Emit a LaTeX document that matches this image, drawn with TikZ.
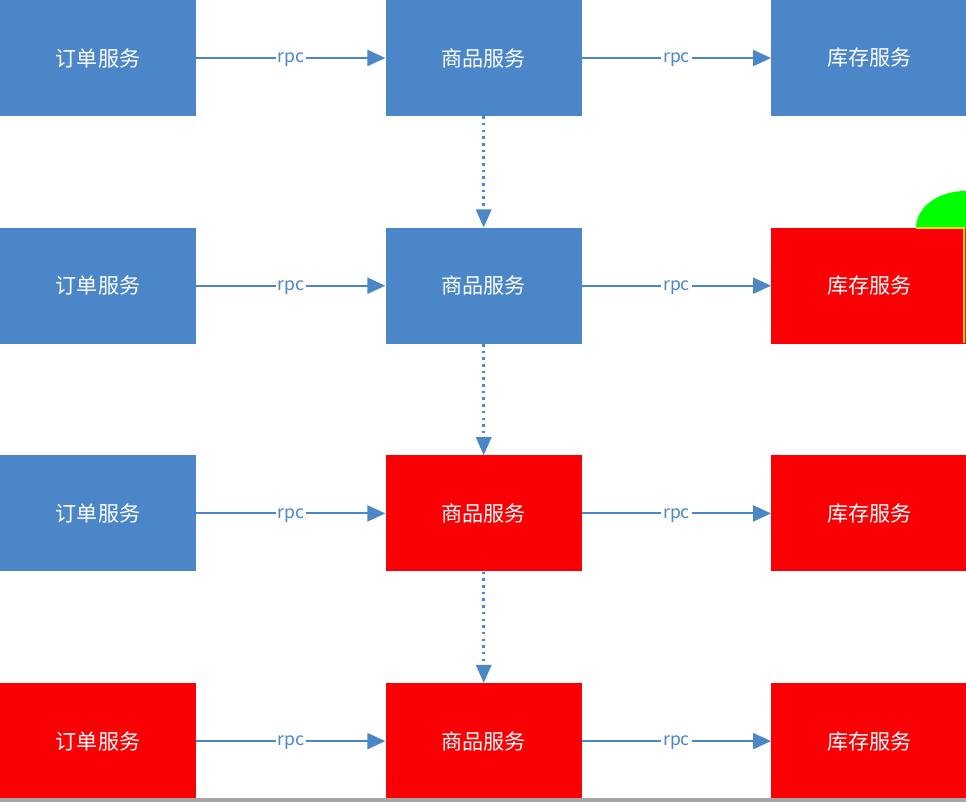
\documentclass[tikz,border=0pt]{standalone}
\usepackage{fontspec}
\setmainfont{Noto Sans CJK SC}
\usepackage{xcolor}
\usepackage{tikz}
\usetikzlibrary{positioning, arrows.meta, shapes.geometric}

\definecolor{svcblue}{RGB}{74,134,200}
\definecolor{svcred}{RGB}{250,0,5}
\definecolor{markgreen}{RGB}{0,255,0}

\begin{document}
\begin{tikzpicture}[node distance=2.22cm and 3.78cm,
    svc/.style={rectangle, minimum width=3.92cm, minimum height=2.32cm, inner sep=0pt, text=white, font=\fontsize{12}{14}\selectfont},
    okbox/.style={svc, fill=svcblue},
    downbox/.style={svc, fill=svcred},
    rpcarrow/.style={draw=svcblue, line width=1.1pt, -{Triangle[length=0.36cm, width=0.32cm]}},
    spread/.style={draw=svcblue, line width=1.4pt, dash pattern=on 1.4pt off 2.4pt, -{Triangle[length=0.36cm, width=0.32cm, line width=0pt]}},
    rpclabel/.style={fill=white, text=svcblue, inner sep=1pt, text height=1.5ex, text depth=0.5ex, font=\fontsize{10}{12}\selectfont}]
        \useasboundingbox (0,0) rectangle (19.32,-16.04);
        % row 1: all fine
        \node [okbox] (order1) at (1.96,-1.16) {订单服务};
        \node [okbox, right=of order1] (goods1) {商品服务};
        \node [okbox, right=of goods1] (stock1) {库存服务};
        % row 2: stock fails
        \node [okbox, below=of order1] (order2) {订单服务};
        \node [okbox, right=of order2] (goods2) {商品服务};
        \node [downbox, right=of goods2] (stock2) {库存服务};
        % row 3: goods fails too
        \node [okbox, below=of order2] (order3) {订单服务};
        \node [downbox, right=of order3] (goods3) {商品服务};
        \node [downbox, right=of goods3] (stock3) {库存服务};
        % row 4: all down
        \node [downbox, below=of order3] (order4) {订单服务};
        \node [downbox, right=of order4] (goods4) {商品服务};
        \node [downbox, right=of goods4] (stock4) {库存服务};

        \foreach \r in {1,2,3,4} {
            \draw [rpcarrow] (order\r) -- node [rpclabel] {rpc} (goods\r);
            \draw [rpcarrow] (goods\r) -- node [rpclabel] {rpc} (stock\r);
        }
        \draw [spread] (goods1) -- (goods2);
        \draw [spread] (goods2) -- (goods3);
        \draw [spread] (goods3) -- (goods4);

        % green mark above the failed box
        \begin{scope}
            \clip (18.2,-3.7) rectangle (19.32,-4.54);
            \fill [markgreen] (19.3,-4.56) ellipse (0.98cm and 0.74cm);
        \end{scope}
        \draw [yellow!80!olive, line width=1pt] (18.32,-4.56) -- (19.28,-4.56) -- (19.28,-6.86);
        % bottom edge
        \fill [gray!70] (0,-15.96) rectangle (19.32,-16.04);
\end{tikzpicture}
\end{document}
